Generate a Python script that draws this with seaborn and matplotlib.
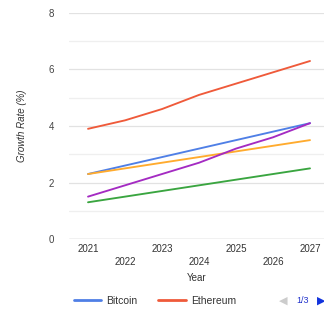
import pandas as pd
import matplotlib
matplotlib.use("Agg")
import matplotlib.pyplot as plt
from matplotlib.lines import Line2D
import seaborn as sns

# data
years = [2021, 2022, 2023, 2024, 2025, 2026, 2027]
series_names = ["Bitcoin", "Ethereum", "Litecoin", "Ripple", "Cardano"]
bitcoin = [2.3, 2.6, 2.9, 3.2, 3.5, 3.8, 4.1]
ethereum = [3.9, 4.2, 4.6, 5.1, 5.5, 5.9, 6.3]
litecoin = [2.3, 2.5, 2.7, 2.9, 3.1, 3.3, 3.5]
ripple = [1.3, 1.5, 1.7, 1.9, 2.1, 2.3, 2.5]
cardano = [1.5, 1.9, 2.3, 2.7, 3.2, 3.6, 4.1]
y_ticks = [0, 2, 4, 6, 8]

COLORS = ["#4f7fe6", "#ef5a3a", "#ffab2e", "#3aa540", "#a42bc2"]

df = pd.DataFrame({
    "Year": years * 5,
    "Growth": bitcoin + ethereum + litecoin + ripple + cardano,
    "Coin": [n for n in series_names for _ in years],
})

sns.set_theme(style="white")
plt.rcParams["font.family"] = ["Liberation Sans", "DejaVu Sans"]

fig = plt.figure(figsize=(3.24, 3.09), dpi=100)
ax = fig.add_axes([0.213, 0.2265, 0.787, 0.7315])

sns.lineplot(data=df, x="Year", y="Growth", hue="Coin", hue_order=series_names,
             palette=COLORS, linewidth=1.35, legend=False, ax=ax)

ax.set_xlim(2020.486, 2027.378)
ax.set_ylim(0, 8)
for v in [1, 3, 5, 7]:
    ax.axhline(v, color="#efefef", lw=0.9, zorder=0)
for v in [2, 4, 6, 8]:
    ax.axhline(v, color="#e2e2e2", lw=0.9, zorder=0)
ax.axhline(0, color="#b8b8b8", lw=1.0, zorder=0)

ax.set_yticks(y_ticks)
ax.set_yticklabels([str(t) for t in y_ticks], color="#444444", fontsize=7)
ax.tick_params(axis="y", length=0, pad=11)
ax.set_xticks(years)
ax.set_xticklabels([str(y) for y in years], color="#333333", fontsize=7)
ax.tick_params(axis="x", length=0)
for i, t in enumerate(ax.xaxis.get_major_ticks()):
    t.set_pad(3.5 if i % 2 == 0 else 13)

for s in ax.spines.values():
    s.set_visible(False)

ax.set_xlabel("Year", fontsize=7, color="#333333", labelpad=4)
ax.set_ylabel("Growth Rate (%)", fontsize=7, color="#333333",
              style="italic", labelpad=15)

handles = [Line2D([0], [0], color=COLORS[i], lw=2) for i in range(2)]
fig.legend(handles, series_names[:2], loc="center left",
           bbox_to_anchor=(0.2, 0.027), ncol=2, frameon=False, fontsize=7.5,
           handlelength=2.6, handletextpad=0.5, columnspacing=2.0,
           labelcolor="#333333")
fig.text(0.875, 0.027, "\u25c0", color="#cccccc", fontsize=8,
         ha="center", va="center", family="DejaVu Sans")
fig.text(0.935, 0.027, "1/3", color="#2233cc", fontsize=6.5,
         ha="center", va="center")
fig.text(0.99, 0.027, "\u25b6", color="#1133dd", fontsize=8,
         ha="center", va="center", family="DejaVu Sans")

fig.savefig("out.png", dpi=100)
